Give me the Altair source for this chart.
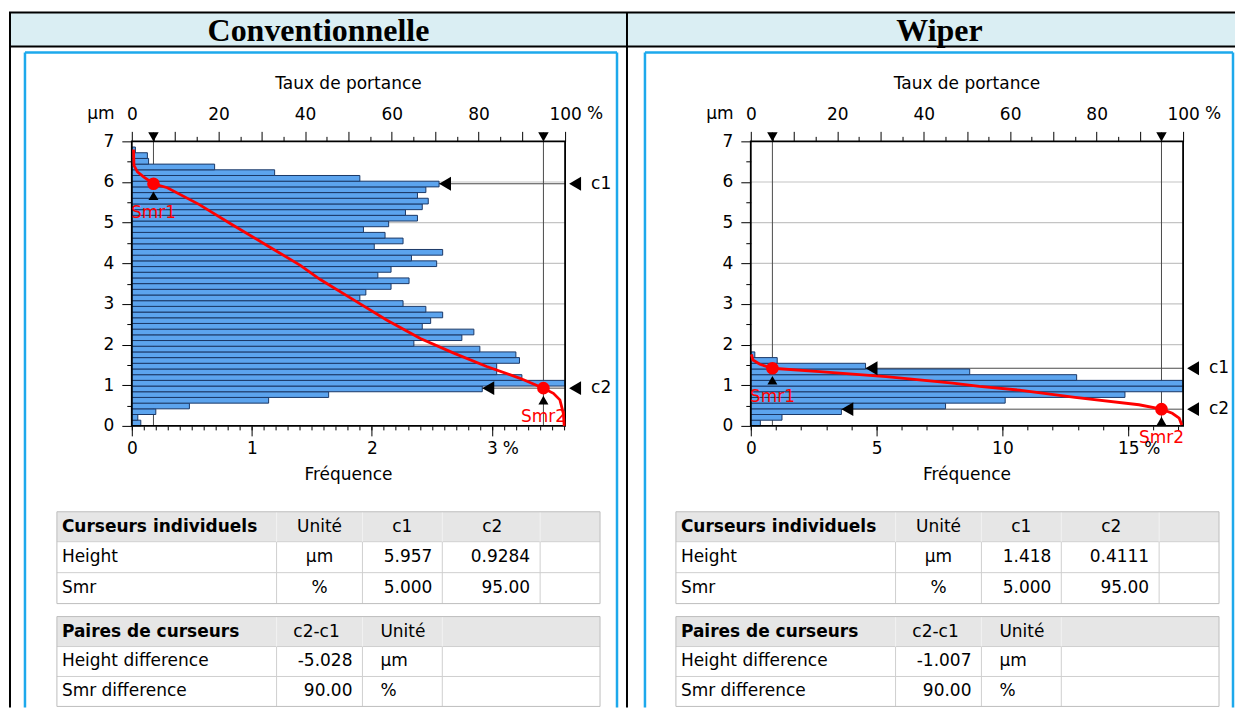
import altair as alt
import pandas as pd

FONT = "DejaVu Sans"
SERIF = "Liberation Serif"
FS = 17  # base font size

# ------------------------------------------------------------------ data
PANEL_TITLES = ["Conventionnelle", "Wiper"]

BIN_WIDTH = 0.14  # µm, class width of the height histogram

CONV_BIN_LO = [0.00, 0.14, 0.28, 0.42, 0.56, 0.70, 0.84, 0.98, 1.12, 1.26,
               1.40, 1.54, 1.68, 1.82, 1.96, 2.10, 2.24, 2.38, 2.52, 2.66,
               2.80, 2.94, 3.08, 3.22, 3.36, 3.50, 3.64, 3.78, 3.92, 4.06,
               4.20, 4.34, 4.48, 4.62, 4.76, 4.90, 5.04, 5.18, 5.32, 5.46,
               5.60, 5.74, 5.88, 6.02, 6.16, 6.30, 6.44, 6.58, 6.72]
CONV_FREQ = [0.075, 0.05, 0.20, 0.48, 1.14, 1.64,
             2.92, 3.75, 3.25, 3.04, 3.04, 3.23, 3.20, 2.90,
             2.35, 2.75, 2.85, 2.42, 2.49, 2.59, 2.45, 2.26,
             1.90, 1.95, 2.16, 2.31, 2.05, 2.16, 2.54, 2.33,
             2.59, 2.02, 2.26, 2.11, 1.93, 2.14, 2.38, 2.28,
             2.42, 2.47, 2.38, 2.45, 2.56,
             1.90, 1.19, 0.69, 0.14, 0.13, 0.03]

WIPER_BIN_LO = [0.00, 0.14, 0.28, 0.42, 0.56, 0.70, 0.84, 0.98, 1.12, 1.26,
                1.40, 1.54, 1.68]
WIPER_FREQ = [0.38, 1.24, 3.60, 7.74, 10.11, 14.87, 17.25, 17.30, 12.95, 8.70,
              4.56, 1.05, 0.16]

CONV_CURVE_SMR = [0.4, 0.5, 1.3, 2.8, 5.0, 8.2, 15.5, 23.0, 31.5, 38.9, 43.5,
                  51.2, 58.9, 66.6, 74.3, 81.9, 89.6, 95.0, 97.3, 98.8, 99.6, 99.8]
CONV_CURVE_H = [6.80, 6.41, 6.25, 6.12, 5.957, 5.86, 5.45, 4.96, 4.42, 3.95, 3.60,
                3.10, 2.60, 2.15, 1.79, 1.46, 1.17, 0.928, 0.80, 0.64, 0.31, 0.0]

WIPER_CURVE_SMR = [0.15, 0.5, 2.1, 5.0, 15.9, 31.3, 46.7, 52.9, 62.1, 75.0,
                   89.8, 95.0, 97.5, 99.1, 99.7]
WIPER_CURVE_H = [1.76, 1.62, 1.515, 1.418, 1.334, 1.21, 1.05, 0.97, 0.88, 0.70,
                 0.52, 0.411, 0.31, 0.19, 0.02]

CURSOR_NAMES = ["c1", "c2"]
SMR_NAMES = ["Smr1", "Smr2"]
CURSOR_SMR = [5.0, 95.0]
CONV_CURSOR_H = [5.957, 0.9284]
WIPER_CURSOR_H = [1.418, 0.4111]
CONV_CURSOR_FREQ = [2.56, 2.92]
WIPER_CURSOR_FREQ = [4.56, 3.60]

FREQ_MAX = [3.61, 17.18]
CONV_FREQ_TICKS = [0, 1, 2, 3]
WIPER_FREQ_TICKS = [0, 5, 10, 15]
SMR_TICKS = [0, 10, 20, 30, 40, 50, 60, 70, 80, 90, 100]
HEIGHT_TICKS = [0, 1, 2, 3, 4, 5, 6, 7]
GRID_HEIGHTS = [1, 2, 3, 4, 5, 6]

T1_HEADER = ["Curseurs individuels", "Unité", "c1", "c2"]
CONV_T1_ROWS = [["Height", "µm", "5.957", "0.9284"], ["Smr", "%", "5.000", "95.00"]]
WIPER_T1_ROWS = [["Height", "µm", "1.418", "0.4111"], ["Smr", "%", "5.000", "95.00"]]
T2_HEADER = ["Paires de curseurs", "c2-c1", "Unité"]
CONV_T2_ROWS = [["Height difference", "-5.028", "µm"], ["Smr difference", "90.00", "%"]]
WIPER_T2_ROWS = [["Height difference", "-1.007", "µm"], ["Smr difference", "90.00", "%"]]

# ------------------------------------------------------------------ style / layout
W_TOTAL = 1228
H = 700
Y0, Y1 = 133, 418
TOP_PAD = 8      # label padding of the top axis
BOT_PAD = 5      # label padding of the bottom axis
HEADER_BG = "#DAEEF3"
FRAME = "#1DA9EC"
BAR_FILL = "#5CA4EE"
BAR_EDGE = "#1B3866"
RED = "#FF0000"
CUR = "#4a4a4a"
TGRID = "#CFCFCF"

ONE = pd.DataFrame({"k": [0]})
L = []


def rect(x, x2, y, y2, **kw):
    L.append(alt.Chart(ONE).mark_rect(**kw).encode(
        x=alt.value(x), x2=alt.value(x2), y=alt.value(y), y2=alt.value(y2)))


def hline(x, x2, y, **kw):
    L.append(alt.Chart(ONE).mark_rule(**kw).encode(
        x=alt.value(x), x2=alt.value(x2), y=alt.value(y)))


def vline(x, y, y2, **kw):
    L.append(alt.Chart(ONE).mark_rule(**kw).encode(
        x=alt.value(x), y=alt.value(y), y2=alt.value(y2)))


def text(x, y, s, **kw):
    if s == "":
        return
    base = dict(font=FONT, fontSize=FS, color="black", baseline="middle", align="center")
    base.update(kw)
    L.append(alt.Chart(ONE).mark_text(text=s, **base).encode(x=alt.value(x), y=alt.value(y)))


def build_panel(cfg):
    ox = cfg["ox"]
    W = cfg["W"]
    X0 = ox + 123
    x1 = ox + cfg["x1"]
    fmax = cfg["fmax"]
    fs = alt.Scale(domain=[0, fmax], range=[X0, x1], clamp=True, nice=False, zero=False)
    ss = alt.Scale(domain=[0, 100], range=[X0, x1], nice=False, zero=False)
    hs = alt.Scale(domain=[0, 7], range=[Y1, Y0], nice=False, zero=False)

    # header band
    rect(ox, ox + W, 4, 38, fill=HEADER_BG)
    hline(ox, ox + W, 4, color="black", strokeWidth=2)
    hline(ox, ox + W, 38, color="black", strokeWidth=2)
    for bx in cfg["borders"]:
        vline(ox + bx, 4, H, color="black", strokeWidth=2)
    text(ox + cfg["header_cx"], 22, cfg["title"], font=SERIF, fontSize=32, fontWeight="bold")

    # blue frame
    fx0, fx1 = cfg["frame"]
    vline(ox + fx0, 44, H, color=FRAME, strokeWidth=2.5)
    vline(ox + fx1, 44, H, color=FRAME, strokeWidth=2.5)
    hline(ox + fx0, ox + fx1, 44, color=FRAME, strokeWidth=2.5)

    # titles
    text((X0 + x1) / 2, 76, "Taux de portance")
    text((X0 + x1) / 2, 467, "Fréquence")
    text(ox + 92, Y0 - 10 - TOP_PAD, "µm", baseline="bottom")

    # grid lines
    g = pd.DataFrame({"h": GRID_HEIGHTS, "a": 0.0, "b": fmax})
    L.append(alt.Chart(g).mark_rule(color="#C4C4C4", strokeWidth=1.2).encode(
        x=alt.X("a:Q", scale=fs, axis=None), x2="b:Q",
        y=alt.Y("h:Q", scale=hs, axis=None)))

    cur = pd.DataFrame({"name": CURSOR_NAMES, "smr_name": SMR_NAMES, "smr": CURSOR_SMR,
                        "h": cfg["cursor_h"], "f": cfg["cursor_freq"], "a": 0.0, "b": fmax})
    L.append(alt.Chart(cur).mark_rule(color=CUR, strokeWidth=1).encode(
        x=alt.X("a:Q", scale=fs, axis=None), x2="b:Q",
        y=alt.Y("h:Q", scale=hs, axis=None)))
    L.append(alt.Chart(cur).mark_rule(color=CUR, strokeWidth=1).encode(
        x=alt.X("smr:Q", scale=ss, axis=None), y=alt.value(124), y2=alt.value(Y1)))

    # histogram bars
    bars = pd.DataFrame({"lo": cfg["bin_lo"], "f": cfg["freq"]})
    bars["hi"] = bars["lo"] + BIN_WIDTH
    bars["z"] = 0.0
    L.append(alt.Chart(bars).mark_rect(fill=BAR_FILL, stroke=BAR_EDGE, strokeWidth=1).encode(
        x=alt.X("z:Q", scale=fs, axis=None), x2="f:Q",
        y=alt.Y("lo:Q", scale=hs, axis=None), y2="hi:Q"))

    # plot frame
    box = pd.DataFrame({"a": [0.0], "b": [fmax], "lo": [0.0], "hi": [7.0]})
    L.append(alt.Chart(box).mark_rect(fillOpacity=0, stroke="black", strokeWidth=1.8).encode(
        x=alt.X("a:Q", scale=fs, axis=None), x2="b:Q",
        y=alt.Y("lo:Q", scale=hs, axis=None), y2="hi:Q"))

    # bearing (Abbott) curve
    cv = pd.DataFrame({"s": cfg["curve_smr"], "h": cfg["curve_h"]})
    cv["i"] = range(len(cv))
    L.append(alt.Chart(cv).mark_line(color=RED, strokeWidth=2.8).encode(
        x=alt.X("s:Q", scale=ss, axis=None), y=alt.Y("h:Q", scale=hs, axis=None),
        order="i:Q"))

    # cursor decorations
    L.append(alt.Chart(cur).mark_point(shape="triangle-down", filled=True, color="black",
                                       size=110, opacity=1).encode(
        x=alt.X("smr:Q", scale=ss, axis=None), y=alt.value(128.5)))
    L.append(alt.Chart(cur).mark_point(shape="triangle-up", filled=True, color="black",
                                       size=100, opacity=1, yOffset=12).encode(
        x=alt.X("smr:Q", scale=ss, axis=None), y=alt.Y("h:Q", scale=hs, axis=None)))
    L.append(alt.Chart(cur).mark_circle(color=RED, size=160, opacity=1).encode(
        x=alt.X("smr:Q", scale=ss, axis=None), y=alt.Y("h:Q", scale=hs, axis=None)))
    L.append(alt.Chart(cur).mark_text(color=RED, font=FONT, fontSize=FS, dy=29,
                                      baseline="middle").encode(
        x=alt.X("smr:Q", scale=ss, axis=None), y=alt.Y("h:Q", scale=hs, axis=None),
        text="smr_name:N"))
    L.append(alt.Chart(cur).mark_point(shape="triangle-left", filled=True, color="black",
                                       size=190, opacity=1, xOffset=6).encode(
        x=alt.X("f:Q", scale=fs, axis=None), y=alt.Y("h:Q", scale=hs, axis=None)))
    L.append(alt.Chart(cur).mark_point(shape="triangle-left", filled=True, color="black",
                                       size=190, opacity=1).encode(
        x=alt.value(x1 + 10), y=alt.Y("h:Q", scale=hs, axis=None)))
    L.append(alt.Chart(cur).mark_text(font=FONT, fontSize=FS, align="left",
                                      baseline="middle", color="black").encode(
        x=alt.value(x1 + 26), y=alt.Y("h:Q", scale=hs, axis=None), text="name:N"))

    # axes
    def axis_layer(vals, channel, scale, **kw):
        ax = alt.Axis(domain=False, grid=False, title=None, labelFont=FONT,
                      labelFontSize=FS, labelColor="black", tickColor="black",
                      tickWidth=1, labelFlush=False, labelOverlap=False,
                      values=vals, **kw)
        df = pd.DataFrame({"v": vals})
        if channel == "x":
            enc = dict(x=alt.X("v:Q", scale=scale, axis=ax))
        else:
            enc = dict(y=alt.Y("v:Q", scale=scale, axis=ax))
        L.append(alt.Chart(df).mark_point(opacity=0).encode(**enc))

    axis_layer(cfg["freq_ticks"], "x", fs, orient="bottom", offset=Y1 - H,
               tickSize=10, labelPadding=BOT_PAD)
    axis_layer(cfg["freq_minor"], "x", fs, orient="bottom", offset=Y1 - H,
               tickSize=4, labels=False)
    axis_layer(SMR_TICKS, "x", ss, orient="top", offset=-Y0, tickSize=10,
               labelPadding=TOP_PAD, labelExpr="datum.value % 20 == 0 ? datum.label : ''")
    axis_layer([v + 5 for v in SMR_TICKS[:-1]], "x", ss, orient="top", offset=-Y0,
               tickSize=5, labels=False)
    axis_layer(HEIGHT_TICKS, "y", hs, orient="left", offset=-X0, tickSize=10,
               labelPadding=8)
    axis_layer([v + 0.5 for v in HEIGHT_TICKS[:-1]], "y", hs, orient="left", offset=-X0,
               tickSize=5, labels=False)

    # unit suffixes next to the last tick labels
    pb = pd.DataFrame({"v": [cfg["freq_ticks"][-1]]})
    L.append(alt.Chart(pb).mark_text(text="%", font=FONT, fontSize=FS, align="left",
                                     baseline="top", dx=cfg["pct_dx"]).encode(
        x=alt.X("v:Q", scale=fs, axis=None), y=alt.value(Y1 + 10 + BOT_PAD)))
    pt = pd.DataFrame({"v": [SMR_TICKS[-1]]})
    L.append(alt.Chart(pt).mark_text(text="%", font=FONT, fontSize=FS, align="left",
                                     baseline="bottom", dx=22).encode(
        x=alt.X("v:Q", scale=ss, axis=None), y=alt.value(Y0 - 10 - TOP_PAD)))

    # ---------------- tables
    tx0, tx1 = ox + 48, ox + 592
    t1y = [504, 534, 565, 596]
    rect(tx0, tx1, t1y[0], t1y[1], fill="#E6E6E6")
    rect(tx0, tx1, t1y[1], t1y[3], fill="white")
    for y in t1y[1:-1]:
        hline(tx0, tx1, y, color=TGRID, strokeWidth=1)
    for x in [268, 354, 434, 532]:
        vline(ox + x, t1y[1], t1y[3], color=TGRID, strokeWidth=1)
        vline(ox + x, t1y[0], t1y[1], color="#F2F2F2", strokeWidth=1)
    rect(tx0, tx1, t1y[0], t1y[3], fillOpacity=0, stroke="#BDBDBD", strokeWidth=1)
    cy = [(t1y[i] + t1y[i + 1]) / 2 for i in range(3)]
    text(ox + 53, cy[0], T1_HEADER[0], align="left", fontWeight="bold")
    text(ox + 311, cy[0], T1_HEADER[1])
    text(ox + 394, cy[0], T1_HEADER[2])
    text(ox + 484, cy[0], T1_HEADER[3])
    for r, row in enumerate(cfg["t1_rows"]):
        text(ox + 53, cy[r + 1], row[0], align="left")
        text(ox + 311, cy[r + 1], row[1])
        text(ox + 424, cy[r + 1], row[2], align="right")
        text(ox + 522, cy[r + 1], row[3], align="right")

    t2y = [609, 639, 669, 699]
    rect(tx0, tx1, t2y[0], t2y[1], fill="#E6E6E6")
    rect(tx0, tx1, t2y[1], t2y[3], fill="white")
    for y in t2y[1:-1]:
        hline(tx0, tx1, y, color=TGRID, strokeWidth=1)
    for x in [268, 354, 434]:
        vline(ox + x, t2y[1], t2y[3], color=TGRID, strokeWidth=1)
        vline(ox + x, t2y[0], t2y[1], color="#F2F2F2", strokeWidth=1)
    rect(tx0, tx1, t2y[0], t2y[3], fillOpacity=0, stroke="#BDBDBD", strokeWidth=1)
    cy2 = [(t2y[i] + t2y[i + 1]) / 2 for i in range(3)]
    text(ox + 53, cy2[0], T2_HEADER[0], align="left", fontWeight="bold")
    text(ox + 308, cy2[0], T2_HEADER[1])
    text(ox + 372, cy2[0], T2_HEADER[2], align="left")
    for r, row in enumerate(cfg["t2_rows"]):
        text(ox + 53, cy2[r + 1], row[0], align="left")
        text(ox + 344, cy2[r + 1], row[1], align="right")
        text(ox + 372, cy2[r + 1], row[2], align="left")


build_panel(dict(
    ox=0, W=620, x1=557, fmax=FREQ_MAX[0], title=PANEL_TITLES[0], header_cx=310,
    borders=[1, 619], frame=(16, 609),
    bin_lo=CONV_BIN_LO, freq=CONV_FREQ,
    freq_ticks=CONV_FREQ_TICKS, freq_minor=[i / 10 for i in range(0, 37)], pct_dx=11,
    curve_smr=CONV_CURVE_SMR, curve_h=CONV_CURVE_H,
    cursor_h=CONV_CURSOR_H, cursor_freq=CONV_CURSOR_FREQ,
    t1_rows=CONV_T1_ROWS, t2_rows=CONV_T2_ROWS))

build_panel(dict(
    ox=620, W=608, x1=556, fmax=FREQ_MAX[1], title=PANEL_TITLES[1], header_cx=312,
    borders=[], frame=(17, 606),
    bin_lo=WIPER_BIN_LO, freq=WIPER_FREQ,
    freq_ticks=WIPER_FREQ_TICKS, freq_minor=list(range(0, 18)), pct_dx=16,
    curve_smr=WIPER_CURVE_SMR, curve_h=WIPER_CURVE_H,
    cursor_h=WIPER_CURSOR_H, cursor_freq=WIPER_CURSOR_FREQ,
    t1_rows=WIPER_T1_ROWS, t2_rows=WIPER_T2_ROWS))

chart = alt.layer(*L).resolve_scale(x="independent", y="independent").properties(
    width=W_TOTAL, height=H, padding=0, background="white"
).configure_view(stroke=None)

chart.save("out.html", embed_options={"renderer": "svg", "actions": False})
